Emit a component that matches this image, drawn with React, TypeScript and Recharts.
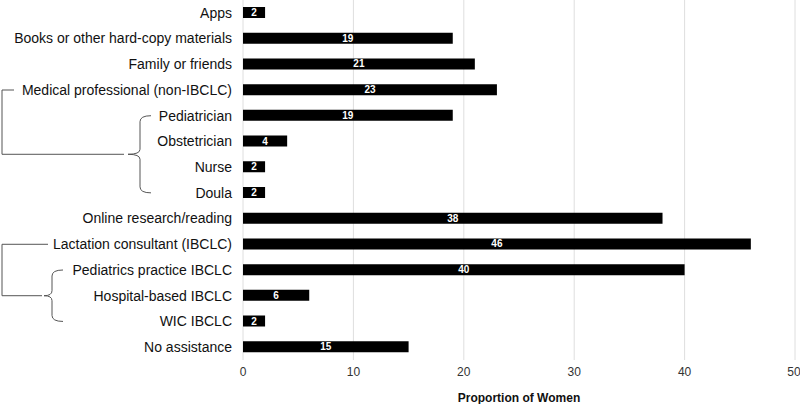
import { Bar, BarChart, CartesianGrid, LabelList, XAxis, YAxis } from "recharts";

const categories = [
  "Apps",
  "Books or other hard-copy materials",
  "Family or friends",
  "Medical professional (non-IBCLC)",
  "Pediatrician",
  "Obstetrician",
  "Nurse",
  "Doula",
  "Online research/reading",
  "Lactation consultant (IBCLC)",
  "Pediatrics practice IBCLC",
  "Hospital-based IBCLC",
  "WIC IBCLC",
  "No assistance",
];
const values = [2, 19, 21, 23, 19, 4, 2, 2, 38, 46, 40, 6, 2, 15];
const xTicks = [0, 10, 20, 30, 40, 50];

// parent row -> [first child, last child]
const groups: Record<string, [number, number]> = {
  "Medical professional (non-IBCLC)": [4, 7],
  "Lactation consultant (IBCLC)": [10, 12],
};

const W = 800;
const H = 404;
const M = { top: 0, right: 5, bottom: 0, left: 0 };
const X_AXIS_H = 44;
const Y_AXIS_W = 243;
const step = (H - M.top - M.bottom - X_AXIS_H) / categories.length;

const data = categories.map((name, i) => ({ name, value: values[i] }));

function brace(xv: number, tip: number, end: number, y0: number, y1: number) {
  const ym = (y0 + y1) / 2;
  return `M ${end} ${y0} Q ${xv} ${y0} ${xv} ${y0 + 6} L ${xv} ${ym - 5} Q ${xv} ${ym} ${tip} ${ym} Q ${xv} ${ym} ${xv} ${ym + 5} L ${xv} ${y1 - 6} Q ${xv} ${y1} ${end} ${y1}`;
}

function CategoryTick(props: any) {
  const { x, y, payload, index } = props;
  const label = payload.value as string;
  const g = groups[label];
  let extra = null;
  if (g) {
    const y0 = y + (g[0] - index) * step;
    const y1 = y + (g[1] - index) * step;
    const ym = (y0 + y1) / 2;
    const isMed = g[0] === 4;
    const topEnd = isMed ? 14 : 48;
    const midEnd = isMed ? 124 : 42;
    const xv = isMed ? 140 : 52;
    const tip = isMed ? 128 : 44;
    const end = isMed ? 151 : 63;
    extra = (
      <g stroke="#555" strokeWidth={1} fill="none">
        <path d={`M ${topEnd} ${y} L 2 ${y} L 2 ${ym} L ${midEnd} ${ym}`} />
        <path d={brace(xv, tip, end, y0, y1)} />
      </g>
    );
  }
  return (
    <g>
      {extra}
      <text
        x={x}
        y={y}
        dy="0.35em"
        textAnchor="end"
        fill="#111"
        fontSize={14}
        fontFamily="Liberation Sans, Arial, sans-serif"
      >
        {label}
      </text>
    </g>
  );
}

export default function App() {
  return (
    <div style={{ position: "absolute", left: 0, top: 0, background: "#fff" }}>
      <BarChart
        width={W}
        height={H}
        data={data}
        layout="vertical"
        margin={M}
        barCategoryGap={0}
        style={{ fontFamily: "Liberation Sans, Arial, sans-serif" }}
      >
        <CartesianGrid horizontal={false} stroke="#dedede" />
        <XAxis
          type="number"
          domain={[0, 50]}
          ticks={xTicks}
          axisLine={false}
          tickLine={false}
          tickSize={0}
          tickMargin={7}
          height={X_AXIS_H}
          tick={{ fill: "#333", fontSize: 12 }}
          label={{
            value: "Proportion of Women",
            position: "insideBottom",
            offset: 2,
            fill: "#111",
            fontSize: 12,
            fontWeight: "bold",
          }}
        />
        <YAxis
          type="category"
          dataKey="name"
          width={Y_AXIS_W}
          axisLine={false}
          tickLine={false}
          tickSize={0}
          tickMargin={11}
          interval={0}
          tick={<CategoryTick />}
        />
        <Bar dataKey="value" fill="#000" barSize={11} isAnimationActive={false}>
          <LabelList
            dataKey="value"
            position="center"
            fill="#fff"
            fontSize={10}
            fontWeight="bold"
          />
        </Bar>
      </BarChart>
    </div>
  );
}
